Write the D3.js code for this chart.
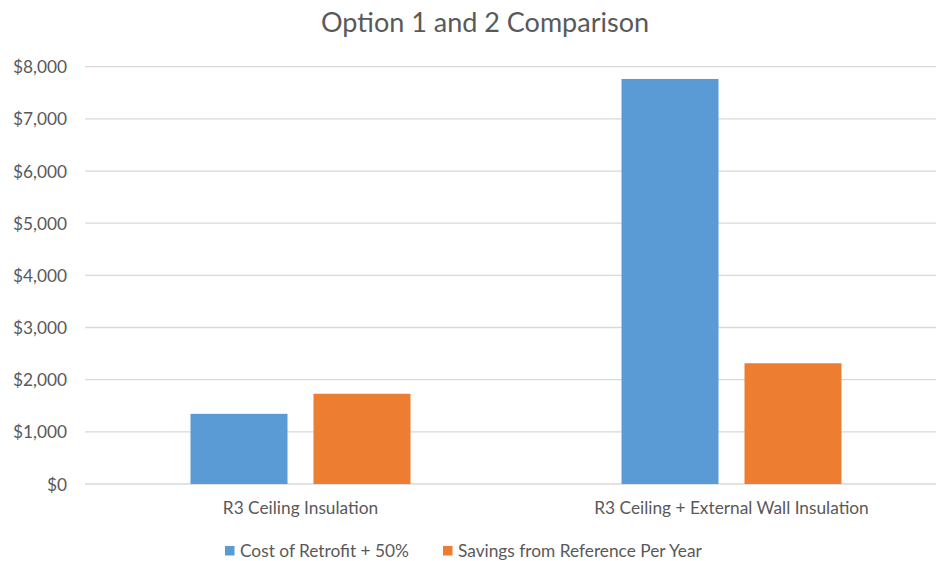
<!DOCTYPE html>
<html><head><meta charset="utf-8">
<script src="https://cdn.jsdelivr.net/npm/d3@7"></script>
<style>body{margin:0;background:#fff;} svg{display:block;font-family:Lato,"Open Sans",sans-serif;}</style>
</head><body>
<svg id="c" width="936" height="561"></svg>
<script>
const categories = ["R3 Ceiling Insulation", "R3 Ceiling + External Wall Insulation"];
const seriesNames = ["Cost of Retrofit + 50%", "Savings from Reference Per Year"];
const costRetrofit = [1345, 7765];
const savingsPerYear = [1730, 2315];
const yTicks = [0, 1000, 2000, 3000, 4000, 5000, 6000, 7000, 8000];
const colors = ["#5B9BD5", "#ED7D31"];
const title = "Option 1 and 2 Comparison";

(function(){
const svg = d3.select("#c");
const pLeft = 85, pRight = 947, pTop = 66.7, pBottom = 484;
const textColor = "#595959";
const fs = "17.3px";

const y = d3.scaleLinear().domain([0, 8000]).range([pBottom, pTop]);
const x0 = d3.scaleBand().domain(categories).range([pLeft, pRight]).padding(0);
const x1 = d3.scaleBand().domain(seriesNames).range([0, x0.bandwidth()])
  .paddingInner(0.2114).paddingOuter(0.8577);

svg.append("g").selectAll("line").data(yTicks).join("line")
  .attr("x1", pLeft).attr("x2", pRight)
  .attr("y1", d => y(d)).attr("y2", d => y(d))
  .attr("stroke", "#D9D9D9").attr("stroke-width", 1.3);

const yAxis = d3.axisLeft(y).tickValues(yTicks).tickSize(0).tickPadding(0)
  .tickFormat(d => "$" + d3.format(",")(d));
const ya = svg.append("g").attr("transform", "translate(67,0)").call(yAxis);
ya.select(".domain").remove();
ya.selectAll("text").attr("fill", textColor).style("font-size", fs)
  .style("font-family", "Lato, 'Open Sans', sans-serif").attr("dy", "0.35em");

const data = categories.map((c, i) => ({cat: c, vals: [costRetrofit[i], savingsPerYear[i]]}));
const g = svg.append("g");
data.forEach(d => {
  g.append("g").selectAll("rect").data(d.vals.map((v, j) => ({s: seriesNames[j], v, j}))).join("rect")
    .attr("x", e => x0(d.cat) + x1(e.s))
    .attr("width", x1.bandwidth())
    .attr("y", e => y(e.v))
    .attr("height", e => pBottom - y(e.v))
    .attr("fill", e => colors[e.j]);
});

const xAxis = d3.axisBottom(x0).tickSize(0).tickPadding(0);
const xa = svg.append("g").attr("transform", `translate(0,${pBottom})`).call(xAxis);
xa.select(".domain").remove();
xa.selectAll("text").attr("fill", textColor).style("font-size", fs)
  .style("font-family", "Lato, 'Open Sans', sans-serif").attr("y", 30).attr("dy", 0);

svg.append("text").attr("x", 485).attr("y", 32).attr("text-anchor", "middle")
  .attr("fill", textColor).style("font-size", "27px").text(title);

const legX = [225, 443];
const leg = svg.append("g");
seriesNames.forEach((s, i) => {
  leg.append("rect").attr("x", legX[i]).attr("y", 546).attr("width", 9.5).attr("height", 9.5).attr("fill", colors[i]);
  leg.append("text").attr("x", legX[i] + 15).attr("y", 556.5).attr("fill", textColor)
    .style("font-size", fs).text(s);
});
})();
</script>
</body></html>
